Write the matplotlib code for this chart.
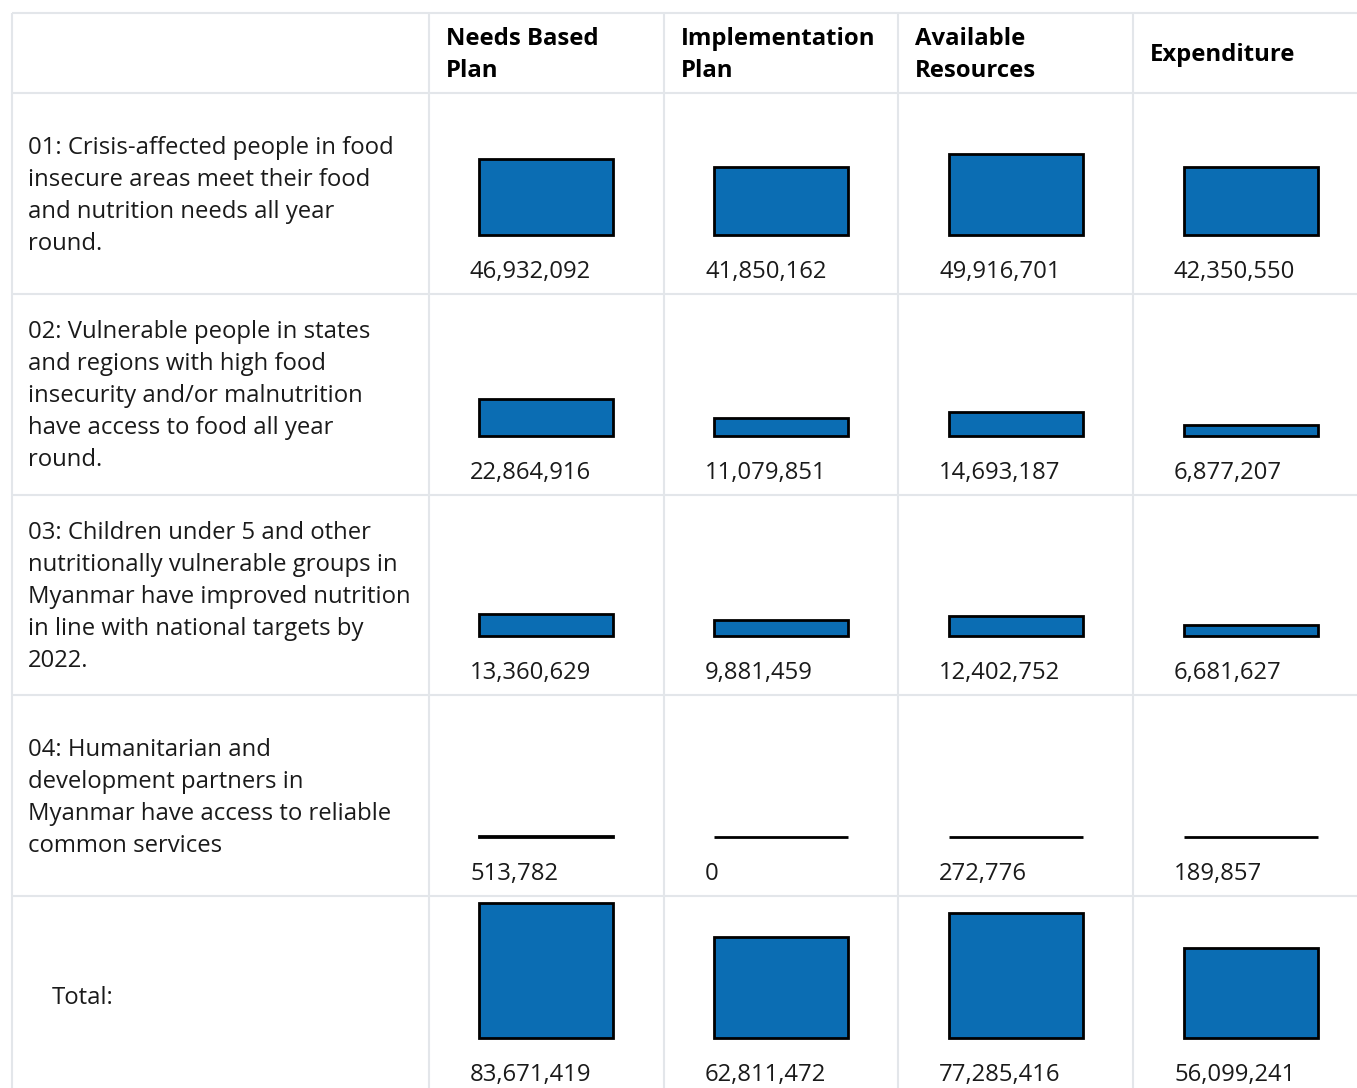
import matplotlib
matplotlib.use("Agg")
import matplotlib.pyplot as plt
import numpy as np

plt.rcParams['font.family'] = ['Open Sans', 'DejaVu Sans']

# Table content
columns = ["Needs Based\nPlan", "Implementation\nPlan", "Available\nResources", "Expenditure"]
row_labels = [
    "01: Crisis-affected people in food\ninsecure areas meet their food\nand nutrition needs all year\nround.",
    "02: Vulnerable people in states\nand regions with high food\ninsecurity and/or malnutrition\nhave access to food all year\nround.",
    "03: Children under 5 and other\nnutritionally vulnerable groups in\nMyanmar have improved nutrition\nin line with national targets by\n2022.",
    "04: Humanitarian and\ndevelopment partners in\nMyanmar have access to reliable\ncommon services",
    "Total:",
]
needs_based = [46932092, 22864916, 13360629, 513782, 83671419]
implementation = [41850162, 11079851, 9881459, 0, 62811472]
available = [49916701, 14693187, 12402752, 272776, 77285416]
expenditure = [42350550, 6877207, 6681627, 189857, 56099241]

values = np.array([needs_based, implementation, available, expenditure]).T

# Layout in pixels
W, H = 1357, 1088
table_left = 12
col_edges = [12, 429, 664, 898, 1133]
col_w = 235
row_edges = [13, 93, 294, 495, 695, 896, 1097]
px_per_unit = 1.613e-6
bar_offset = 50
bar_w = 134
line_step = 32
text_shift = 2
grid_color = '#e3e6ea'
text_color = '#1a1a1a'
bar_color = '#0b6db3'
fs = 17.2

fig = plt.figure(figsize=(W / 100, H / 100), dpi=100)
bg = fig.add_axes([0, 0, 1, 1])
bg.set_xlim(0, W)
bg.set_ylim(H, 0)
bg.axis('off')

# grid
bg.hlines(row_edges, table_left, W, color=grid_color, lw=1.5)
bg.vlines(col_edges, row_edges[0], row_edges[-1], color=grid_color, lw=1.5)

# header
for j, name in enumerate(columns):
    lines = name.split("\n")
    cy = (row_edges[0] + row_edges[1]) / 2 + text_shift
    y0 = cy - (len(lines) - 1) * line_step / 2
    for k, ln in enumerate(lines):
        bg.text(col_edges[j + 1] + 17, y0 + k * line_step, ln, fontsize=fs,
                fontweight='bold', color='black', va='center', ha='left')

# rows
for i, label in enumerate(row_labels):
    top, bottom = row_edges[i + 1], row_edges[i + 2]
    lines = label.split("\n")
    cy = (top + bottom) / 2 + text_shift
    y0 = cy - (len(lines) - 1) * line_step / 2
    lx = table_left + 16 if i < len(row_labels) - 1 else table_left + 40
    for k, ln in enumerate(lines):
        bg.text(lx, y0 + k * line_step, ln, fontsize=fs, color=text_color,
                va='center', ha='left')

    base = bottom - 59
    ax = fig.add_axes([col_edges[1] / W, (H - base) / H,
                       4 * col_w / W, (base - top) / H])
    ax.set_xlim(0, 4)
    ax.set_ylim(0, (base - top) / px_per_unit)
    ax.axis('off')
    ax.patch.set_visible(False)
    ax.bar(np.arange(4) + bar_offset / col_w, values[i], width=bar_w / col_w,
           align='edge', color=bar_color, edgecolor='black', linewidth=2.0,
           clip_on=False)

    for j in range(4):
        bg.text(col_edges[j + 1] + 41, bottom - 24 + text_shift, f"{values[i, j]:,}",
                fontsize=fs, color=text_color, va='center', ha='left')

fig.savefig("out.png", dpi=100)
